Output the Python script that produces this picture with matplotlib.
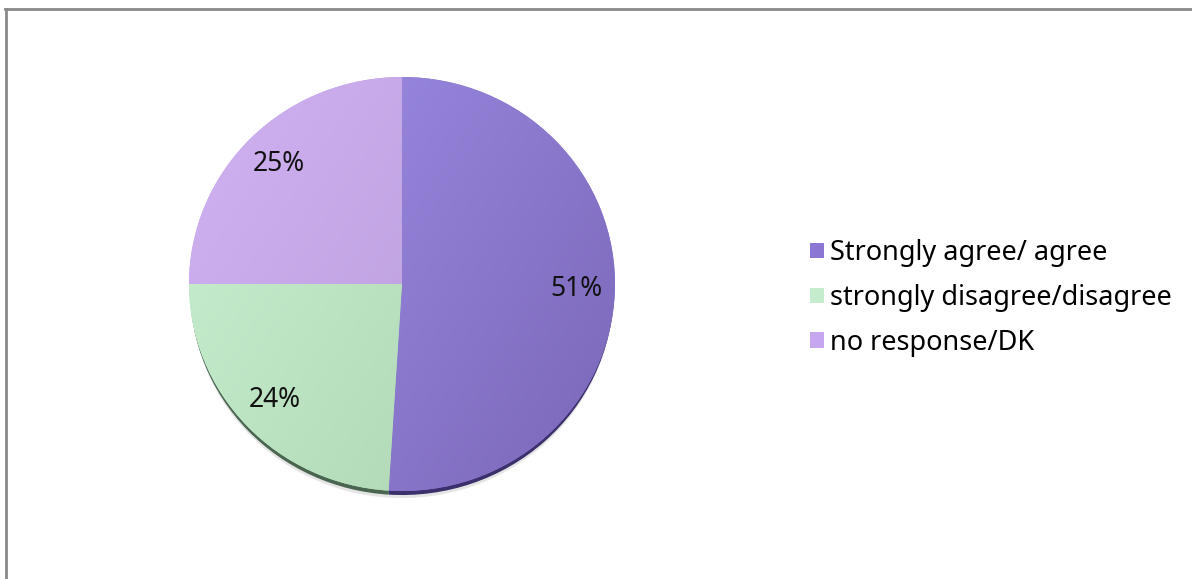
import numpy as np
import matplotlib.pyplot as plt
from matplotlib.lines import Line2D
from matplotlib.patches import Patch
from matplotlib.colors import to_rgb

# survey answers, in percent
labels = ['Strongly agree/ agree', 'strongly disagree/disagree', 'no response/DK']
shares = [51, 24, 25]

# light / dark ends of the shading on each slice
light = ['#a192ea', '#caf2d3', '#d1b2f4']
dark = ['#7a66b8', '#a8d0ac', '#b397d2']
rim = ['#3b2f6c', '#4a6650', '#6b5a86']
swatch = ['#8b76d4', '#c6ecce', '#c6a6ee']

W, H = 1192, 579
RX, RY = 213.0, 207.0
k = RX / RY  # stretch y so the pie comes out slightly flattened


def ypos(ypx):
    return (H - ypx) * k


plt.rcParams['font.family'] = ['Noto Sans', 'DejaVu Sans']

fig = plt.figure(figsize=(W / 100, H / 100), dpi=100)
ax = fig.add_axes([0, 0, 1, 1])

cx, cy = 402, ypos(284)

# soft shadow and dark rim under the pie
ax.pie(shares, colors=['#999999'] * 3, radius=RX - 2, center=(cx, cy - 9 * k),
       startangle=90, counterclock=False, frame=True,
       wedgeprops=dict(linewidth=0, alpha=0.25, zorder=0))
ax.pie(shares, colors=rim, radius=RX - 1, center=(cx, cy - 5 * k),
       startangle=90, counterclock=False, frame=True,
       wedgeprops=dict(linewidth=0, zorder=1))

wedges, _, pcts = ax.pie(shares, colors=swatch, radius=RX, center=(cx, cy),
                         startangle=90, counterclock=False, frame=True,
                         autopct='%1.0f%%', pctdistance=0.82,
                         wedgeprops=dict(linewidth=0, zorder=2),
                         textprops=dict(fontsize=19, color='#111111'))
for t in pcts:
    t.set_zorder(5)

# diagonal shading inside each slice
x0, x1 = cx - RX, cx + RX
y0, y1 = cy - RX - 20, cy + RX + 20
gx, gy = np.meshgrid(np.linspace(0, 1, 200), np.linspace(0, 1, 200))
t = 0.6 * gx + 0.4 * gy
for w, lo, hi in zip(wedges, light, dark):
    c0 = np.array(to_rgb(lo))
    c1 = np.array(to_rgb(hi))
    img = c0 * (1 - t[..., None]) + c1 * t[..., None]
    im = ax.imshow(img, extent=(x0, x1, y0, y1), origin='upper',
                   interpolation='bilinear', zorder=3)
    im.set_clip_path(w)

ax.set_aspect('auto')
ax.set_xlim(0, W)
ax.set_ylim(0, H * k)
ax.axis('off')

handles = [Patch(facecolor=c, edgecolor='none') for c in swatch]
fig.legend(handles, labels, loc='center left',
           bbox_to_anchor=(810 / W, 1 - 298 / H), frameon=False,
           fontsize=19.5, handlelength=0.5, handleheight=0.5,
           handletextpad=0.25, labelspacing=0.62, borderpad=0,
           borderaxespad=0)

# frame lines along the top and left edges
fig.add_artist(Line2D([5 / W, 1], [1 - 8.5 / H, 1 - 8.5 / H],
                      transform=fig.transFigure, color='#8a8a8a', lw=2))
fig.add_artist(Line2D([6 / W, 6 / W], [0, 1 - 8.5 / H],
                      transform=fig.transFigure, color='#8a8a8a', lw=2))

fig.savefig('out.png', dpi=100, facecolor='white')
